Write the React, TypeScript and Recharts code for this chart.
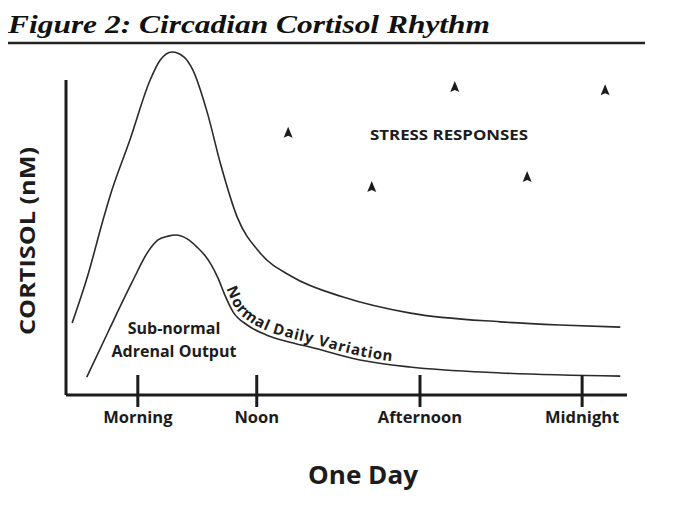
import React from 'react';
import { ComposedChart, Line, Scatter, XAxis, YAxis, ReferenceLine } from 'recharts';

// upper curve: normal daily variation (peak in the morning)
const upperX = [1.1, 3.8, 6.6, 7.8, 11.4, 15.0, 16.8, 18.9, 21.0, 22.6, 25.2, 27.5, 30.5, 34.6, 40.4, 49.4, 61.4, 77.4, 88.0, 98.8];
const upperY = [20.6, 33.7, 50, 56.6, 72.9, 90, 95.7, 98, 96.6, 92.9, 80.6, 66.3, 50.9, 40.6, 33.7, 28, 23.4, 20.9, 20, 19.4];

// lower curve: sub-normal adrenal output
const lowerX = [3.7, 7.5, 11.8, 14.6, 16.4, 18.2, 19.6, 21.6, 23.4, 24.7, 25.9, 27.1, 28.3, 29.8, 32.3, 35.8, 39.9, 43.5, 52.4, 61.3, 77.4, 98.8];
const lowerY = [5.1, 18.0, 32.3, 40.9, 44.3, 45.4, 45.7, 44.6, 42.2, 40.0, 37.2, 33.4, 28.6, 23.7, 20.0, 17.1, 15.1, 13.7, 10.0, 8.0, 6.3, 5.4];

// stress response markers
const stressX = [39.6, 54.5, 69.3, 82.2, 96.1];
const stressY = [74.9, 59.4, 88.0, 62.3, 87.1];

const tickValues = [12.8, 34.0, 63.1, 92.0];
const tickLabels = ['Morning', 'Noon', 'Afternoon', 'Midnight'];

const upperData = upperX.map((x, i) => ({ x, y: upperY[i] }));
const lowerData = lowerX.map((x, i) => ({ x, y: lowerY[i] }));
const stressData = stressX.map((x, i) => ({ x, y: stressY[i] }));

const W = 657;
const H = 491;
const MARGIN = { top: 37, right: 38, bottom: 74, left: 58 };
const AXIS_H = 30;
const plotW = W - MARGIN.left - MARGIN.right;
const plotH = H - MARGIN.top - MARGIN.bottom - AXIS_H;
const toPx = (x: number) => MARGIN.left + (x / 100) * plotW;
const toPy = (y: number) => MARGIN.top + plotH - (y / 100) * plotH;

const INK = '#1c1c1c';
const FONT = '"Open Sans", "DejaVu Sans", sans-serif';

// smooth path along the lower curve, nudged up for the curved label
const labelPath = (() => {
  const pts = lowerData.filter((d) => d.x >= 25 && d.x <= 80).map((d) => [toPx(d.x), toPy(d.y)]);
  const off = pts.map((p, i) => {
    const a = pts[Math.max(0, i - 1)];
    const b = pts[Math.min(pts.length - 1, i + 1)];
    const dx = b[0] - a[0];
    const dy = b[1] - a[1];
    const len = Math.hypot(dx, dy) || 1;
    return [p[0] + (dy / len) * 4, p[1] - (dx / len) * 4];
  });
  let d = `M${off[0][0]},${off[0][1]}`;
  for (let i = 0; i < off.length - 1; i++) {
    const p0 = off[Math.max(0, i - 1)];
    const p1 = off[i];
    const p2 = off[i + 1];
    const p3 = off[Math.min(off.length - 1, i + 2)];
    const c1 = [p1[0] + (p2[0] - p0[0]) / 6, p1[1] + (p2[1] - p0[1]) / 6];
    const c2 = [p2[0] - (p3[0] - p1[0]) / 6, p2[1] - (p3[1] - p1[1]) / 6];
    d += ` C${c1[0]},${c1[1]} ${c2[0]},${c2[1]} ${p2[0]},${p2[1]}`;
  }
  return d;
})();

const DayTick = (props: any) => {
  const { x, y, payload } = props;
  const label = tickLabels[tickValues.indexOf(payload.value)];
  return (
    <g>
      <line x1={x} x2={x} y1={y - 20} y2={y + 12} stroke={INK} strokeWidth={3} />
      <text x={x} y={y + 28} textAnchor="middle" fontFamily={FONT} fontWeight={700} fontSize={16.5} fill={INK}>
        {label}
      </text>
    </g>
  );
};

const Arrowhead = (props: any) => {
  const { cx, cy } = props;
  return <path d={`M${cx},${cy - 6} L${cx + 4.5},${cy + 5} L${cx},${cy + 3} L${cx - 4.5},${cy + 5} Z`} fill={INK} />;
};

const App: React.FC = () => {
  return (
    <div style={{ position: 'relative', width: W, height: H, background: '#fff' }}>
      <ComposedChart width={W} height={H} margin={MARGIN}>
        <XAxis
          type="number"
          dataKey="x"
          domain={[0, 100]}
          ticks={tickValues}
          interval={0}
          tickSize={0}
          tickMargin={0}
          tickLine={false}
          tick={<DayTick />}
          height={AXIS_H}
          axisLine={{ stroke: INK, strokeWidth: 3 }}
        />
        <YAxis type="number" dataKey="y" domain={[0, 100]} hide />
        <ReferenceLine segment={[{ x: 0, y: 0 }, { x: 0, y: 90 }]} stroke={INK} strokeWidth={3} ifOverflow="visible" />
        <Line data={upperData} dataKey="y" type="monotone" stroke="#2a2a2a" strokeWidth={1.6} dot={false} isAnimationActive={false} />
        <Line data={lowerData} dataKey="y" type="monotone" stroke="#2a2a2a" strokeWidth={1.6} dot={false} isAnimationActive={false} />
        <Scatter data={stressData} dataKey="y" shape={<Arrowhead />} isAnimationActive={false} />
      </ComposedChart>
      <svg width={W} height={H} style={{ position: 'absolute', left: 0, top: 0, pointerEvents: 'none' }}>
        <text x={0} y={25} fontFamily='"Liberation Serif", serif' fontStyle="italic" fontWeight={700} fontSize={26} textLength={482} lengthAdjust="spacingAndGlyphs" fill="#111">
          Figure 2: Circadian Cortisol Rhythm
        </text>
        <line x1={0} x2={637} y1={35} y2={35} stroke="#222" strokeWidth={2.5} />
        <text x={19} y={233} transform="rotate(-90 19 233)" textAnchor="middle" dy="0.36em" fontFamily={FONT} fontWeight={700} fontSize={22} textLength={188} lengthAdjust="spacingAndGlyphs" fill={INK}>
          CORTISOL (nM)
        </text>
        <text x={355} y={467} textAnchor="middle" dy="0.36em" fontFamily={FONT} fontWeight={700} fontSize={25} textLength={110} lengthAdjust="spacingAndGlyphs" fill={INK}>
          One Day
        </text>
        <text x={441} y={127} textAnchor="middle" dy="0.36em" fontFamily={FONT} fontWeight={700} fontSize={15} textLength={158} lengthAdjust="spacingAndGlyphs" fill={INK}>
          STRESS RESPONSES
        </text>
        <text x={166} y={326} textAnchor="middle" fontFamily={FONT} fontWeight={700} fontSize={16} fill={INK}>
          Sub-normal
        </text>
        <text x={166} y={349} textAnchor="middle" fontFamily={FONT} fontWeight={700} fontSize={16} fill={INK}>
          Adrenal Output
        </text>
        <path id="nv-path" d={labelPath} fill="none" stroke="none" />
        <text fontFamily={FONT} fontWeight={700} fontSize={15} fill={INK}>
          <textPath href="#nv-path" startOffset={28} textLength={190}>
            Normal Daily Variation
          </textPath>
        </text>
      </svg>
    </div>
  );
};

export default App;
